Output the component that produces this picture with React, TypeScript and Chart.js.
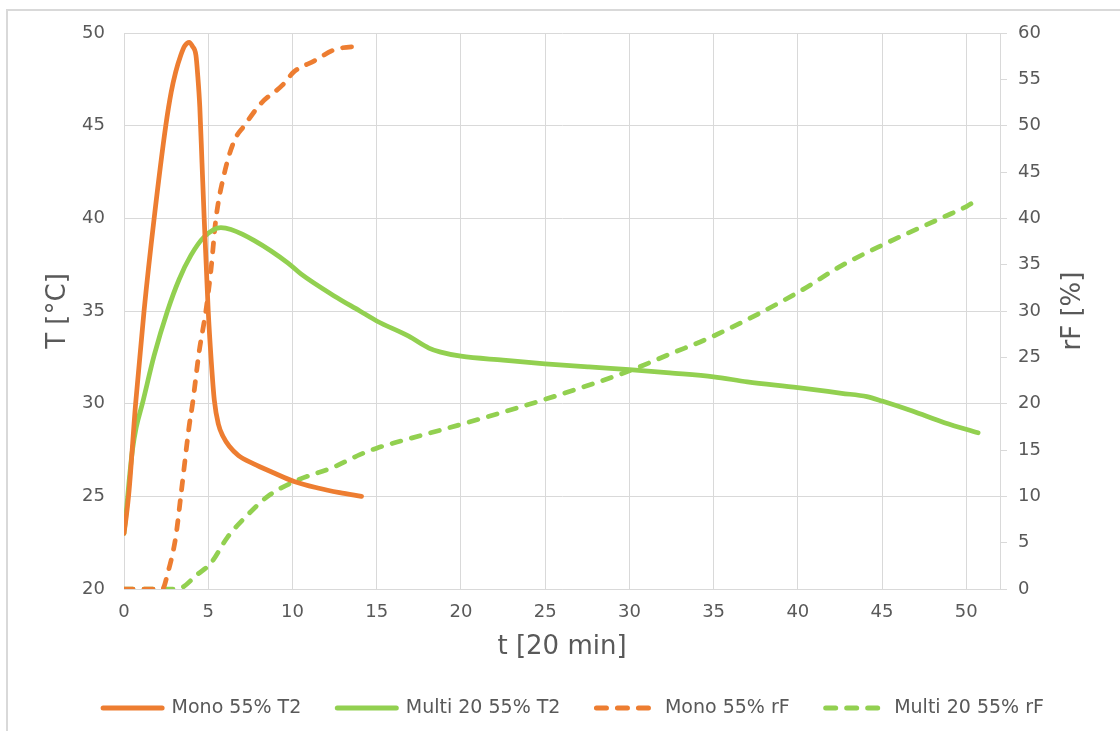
import React, { useEffect, useRef } from "react";
import { Chart, registerables } from "chart.js";

Chart.register(...registerables);

// Mono 55% T2 (°C, left axis)
const monoT2X = [0, 0.12, 0.3, 0.69, 1.19, 1.79, 2.48, 2.8, 3.07, 3.37, 3.6, 3.87, 4.05, 4.27, 4.37, 4.5, 4.63, 4.76, 4.88, 5.0, 5.18, 5.36, 5.6, 5.9, 6.25, 6.8, 7.7, 8.8, 10.1, 11.5, 12.8, 14.1];
const monoT2Y = [23.0, 23.8, 25.3, 30.0, 35.0, 40.0, 45.0, 46.8, 47.9, 48.8, 49.3, 49.5, 49.3, 48.8, 47.8, 46.0, 43.0, 40.0, 37.5, 35.0, 32.3, 30.2, 28.9, 28.2, 27.7, 27.2, 26.75, 26.3, 25.8, 25.45, 25.2, 25.0];

// Multi 20 55% T2 (°C, left axis)
const multiT2X = [0, 0.15, 0.3, 0.5, 0.72, 1.09, 1.79, 2.58, 3.27, 3.97, 4.76, 5.75, 6.35, 7.74, 9.72, 10.5, 12.5, 14.0, 15.0, 16.9, 18.1, 18.8, 20, 22.5, 25, 27.6, 30, 32.4, 35, 37, 40, 42.6, 44.1, 45, 46.8, 48.7, 50.7];
const multiT2Y = [23.0, 24.3, 25.8, 27.5, 28.7, 30.0, 32.6, 35.0, 36.7, 38.0, 39.0, 39.5, 39.4, 38.8, 37.6, 37.0, 35.8, 35.0, 34.46, 33.64, 33.0, 32.78, 32.56, 32.35, 32.15, 31.98, 31.84, 31.66, 31.45, 31.18, 30.87, 30.56, 30.38, 30.14, 29.6, 28.97, 28.43];

// Mono 55% rF (%, right axis)
const monoRfX = [0, 1.0, 2.28, 2.58, 3.07, 3.37, 3.87, 4.07, 4.46, 4.86, 5.16, 5.46, 5.95, 6.55, 7.14, 8.13, 9.42, 10.08, 11.3, 12.5, 14.1];
const monoRfY = [0, 0, 0, 1.6, 5.6, 10.0, 17.6, 20.0, 25.6, 30.0, 34.4, 40.0, 44.8, 48.4, 50.0, 52.4, 54.4, 55.8, 57.0, 58.2, 58.6];

// Multi 20 55% rF (%, right axis)
const multiRfX = [0, 2.0, 3.17, 4.37, 5.16, 6.15, 7.34, 8.53, 10.12, 12.5, 14.0, 15.0, 16.5, 20, 25, 30, 32.4, 35, 40, 42.6, 45, 48.7, 50, 50.7];
const multiRfY = [0, 0, 0, 1.6, 2.8, 5.6, 8.0, 10.0, 11.6, 13.2, 14.5, 15.2, 16.0, 17.76, 20.47, 23.54, 25.35, 27.3, 32.0, 34.9, 37.1, 40.18, 41.27, 42.06];

const seriesLabels = ["Mono 55% T2", "Multi 20 55% T2", "Mono 55% rF", "Multi 20 55% rF"];
const xTitle = "t [20 min]";
const yLeftTitle = "T [°C]";
const yRightTitle = "rF [%]";

const ORANGE = "#ED7D31";
const GREEN = "#92D050";
const TEXT = "#595959";
const GRID = "#d9d9d9";
const FONT = "'DejaVu Sans', sans-serif";

const toPts = (xs: number[], ys: number[]) => xs.map((x, i) => ({ x, y: ys[i] }));

// Right axis title reading bottom-to-top (like the left one)
const rightTitlePlugin = {
  id: "rightTitle",
  afterDraw(chart: any) {
    const s = chart.scales.y1;
    if (!s) return;
    const ctx = chart.ctx;
    ctx.save();
    ctx.fillStyle = TEXT;
    ctx.font = `26px ${FONT}`;
    ctx.textAlign = "center";
    ctx.textBaseline = "middle";
    ctx.translate(s.right - 47, (s.top + s.bottom) / 2);
    ctx.rotate(-Math.PI / 2);
    ctx.fillText(yRightTitle, 0, 0);
    ctx.restore();
  },
};

export default function App() {
  const ref = useRef<HTMLCanvasElement | null>(null);

  useEffect(() => {
    if (!ref.current) return;
    const common = {
      pointRadius: 0,
      pointHoverRadius: 0,
      borderWidth: 4.75,
      borderCapStyle: "round" as const,
      borderJoinStyle: "round" as const,
      cubicInterpolationMode: "monotone" as const,
      fill: false,
    };
    const chart = new Chart(ref.current, {
      type: "line",
      data: {
        datasets: [
          { ...common, label: seriesLabels[0], data: toPts(monoT2X, monoT2Y), borderColor: ORANGE, backgroundColor: ORANGE, yAxisID: "y" },
          { ...common, label: seriesLabels[1], data: toPts(multiT2X, multiT2Y), borderColor: GREEN, backgroundColor: GREEN, yAxisID: "y" },
          { ...common, label: seriesLabels[2], data: toPts(monoRfX, monoRfY), borderColor: ORANGE, backgroundColor: ORANGE, borderDash: [9, 11], yAxisID: "y1" },
          { ...common, label: seriesLabels[3], data: toPts(multiRfX, multiRfY), borderColor: GREEN, backgroundColor: GREEN, borderDash: [9, 11], yAxisID: "y1" },
        ],
      },
      plugins: [rightTitlePlugin],
      options: {
        responsive: false,
        animation: false,
        events: [],
        layout: { padding: { left: 27, right: 0, top: 33, bottom: 3.5 } },
        plugins: {
          tooltip: { enabled: false },
          legend: {
            position: "bottom",
            labels: {
              usePointStyle: true,
              pointStyleWidth: 59,
              padding: 36,
              color: TEXT,
              font: { family: FONT, size: 19 },
              generateLabels: (c: any) =>
                c.data.datasets.map((ds: any, i: number) => ({
                  text: ds.label,
                  fillStyle: ds.borderColor,
                  strokeStyle: ds.borderColor,
                  lineWidth: 5,
                  lineDash: ds.borderDash ? [10, 11] : [],
                  lineCap: "round",
                  pointStyle: "line",
                  hidden: false,
                  datasetIndex: i,
                  fontColor: TEXT,
                })),
            },
          },
        },
        scales: {
          x: {
            type: "linear",
            min: 0,
            max: 52,
            afterFit: (s: any) => { s.height = 73.5; },
            ticks: { stepSize: 5, includeBounds: false, color: TEXT, font: { family: FONT, size: 18 }, padding: 13, maxRotation: 0 },
            grid: { color: GRID, lineWidth: 1, drawTicks: false },
            border: { color: GRID, width: 1 },
            title: { display: true, text: xTitle, color: TEXT, font: { family: FONT, size: 26 }, padding: { top: 0, bottom: 0 } },
          },
          y: {
            type: "linear",
            position: "left",
            min: 20,
            max: 50,
            afterFit: (s: any) => { s.width = 97; },
            ticks: { stepSize: 5, color: TEXT, font: { family: FONT, size: 18 }, padding: 19 },
            grid: { color: GRID, lineWidth: 1, drawTicks: false },
            border: { color: GRID, width: 1 },
            title: { display: true, text: yLeftTitle, color: TEXT, font: { family: FONT, size: 26 }, padding: { top: 15.4, bottom: 0 } },
          },
          y1: {
            type: "linear",
            position: "right",
            min: 0,
            max: 60,
            afterFit: (s: any) => { s.width = 120; },
            ticks: { stepSize: 5, color: TEXT, font: { family: FONT, size: 18 }, padding: 11 },
            grid: { drawOnChartArea: false, color: GRID, lineWidth: 1, drawTicks: true, tickLength: 7 },
            border: { color: GRID, width: 1 },
            title: { display: false, text: yRightTitle },
          },
        },
      },
    } as any);
    return () => chart.destroy();
  }, []);

  return (
    <div style={{ position: "absolute", left: 0, top: 0, width: 1120, height: 731, overflow: "hidden", background: "#fff" }}>
      <div style={{ position: "absolute", left: 6, top: 9, width: 1130, height: 740, border: "2px solid #d9d9d9", boxSizing: "border-box" }} />
      <canvas ref={ref} width={1120} height={731} style={{ position: "absolute", left: 0, top: 0, width: 1120, height: 731 }} />
    </div>
  );
}
